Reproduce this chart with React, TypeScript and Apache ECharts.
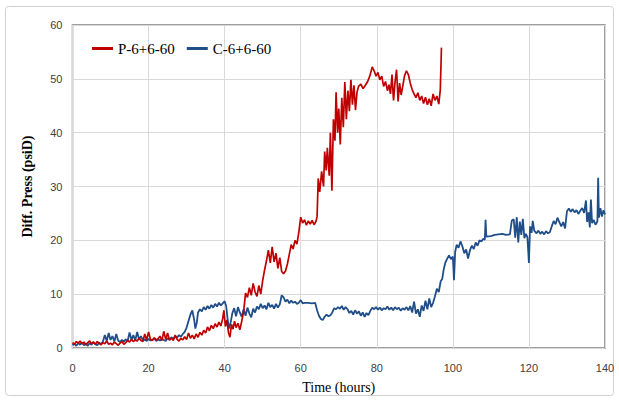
import React, { useEffect, useRef } from "react";
import * as echarts from "echarts";

const seriesNames = ["P-6+6-60", "C-6+6-60"];
const xTicks = [0, 20, 40, 60, 80, 100, 120, 140];
const yTicks = [0, 10, 20, 30, 40, 50, 60];

// P-6+6-60 : [time (hours), diff. press (psiD)]
const pData: number[][] = [
  [0,1.0],[0.5,0.7],[1,1.2],[1.5,0.9],[2,1.3],[2.5,0.8],[3,1.1],[3.5,0.6],[4,1.0],[4.5,1.3],
  [5,0.8],[5.5,1.1],[6,0.7],[6.5,1.2],[7,0.9],[7.5,0.6],[8,1.0],[8.5,0.8],[9,1.3],[9.5,0.7],
  [10,0.9],[10.5,0.6],[11,1.1],[11.5,0.8],[12,0.5],[12.5,0.9],[13,1.2],[13.5,0.7],[14,1.0],[14.5,1.4],
  [15,1.1],[15.5,1.6],[16,1.2],[16.5,1.5],[17,1.3],[17.5,1.8],[18,1.4],[18.5,1.2],[19,2.6],[19.5,1.5],
  [20,3.0],[20.5,1.6],[21,1.4],[21.5,1.9],[22,1.5],[22.5,1.7],[23,2.2],[23.5,1.4],[24,3.1],[24.5,1.6],
  [25,2.8],[25.5,1.5],[26,1.8],[26.5,1.4],[27,2.4],[27.5,1.6],[28,1.3],[28.5,1.8],[29,1.5],[29.5,2.1],
  [30,1.6],[30.5,2.8],[31,1.8],[31.5,2.4],[32,1.7],[32.5,2.6],[33,2.0],[33.5,2.9],[34,2.4],[34.5,3.3],
  [35,2.8],[35.5,3.9],[36,3.2],[36.5,4.2],[37,3.6],[37.5,4.5],[38,3.9],[38.5,4.8],[39,4.1],[39.5,5.5],
  [39.8,7.0],[40.2,4.0],[40.6,5.2],[41,2.9],[41.4,2.0],[41.8,4.4],[42.2,3.5],[42.6,5.0],[43,3.8],[43.5,4.6],
  [44,3.4],[44.5,5.0],[45,6.8],[45.5,10.2],[46,9.4],[46.5,11.2],[47,9.8],[47.5,12.0],[48,10.4],[48.5,9.6],
  [49,11.6],[49.5,10.0],[50,12.5],[50.5,14.5],[51,16.2],[51.5,18.2],[52,15.8],[52.5,18.8],[53,16.0],[53.5,17.6],
  [54,14.8],[54.5,16.8],[55,14.2],[55.5,13.8],[56,14.3],[56.5,15.6],[57,17.4],[57.5,19.2],[58,18.4],[58.5,20.0],
  [59,19.3],[59.5,21.5],[60,24.3],[60.5,23.2],[61,23.8],[61.5,22.8],[62,23.6],[62.5,23.0],[63,23.7],[63.5,22.9],
  [64,23.5],[64.3,24.4],[64.6,31.5],[65,29.0],[65.5,32.8],[66,30.0],[66.3,36.5],[66.7,33.0],[67,37.2],[67.5,32.0],
  [67.8,40.0],[68.2,29.2],[68.6,42.5],[69,38.5],[69.3,47.5],[69.7,40.0],[70,44.5],[70.4,37.8],[70.8,46.5],[71.2,41.0],
  [71.6,49.4],[72,42.5],[72.4,47.8],[72.8,44.0],[73.2,49.8],[73.6,45.2],[74,48.8],[74.4,44.2],[74.8,47.5],[75.2,48.6],
  [75.8,49.0],[76.4,48.2],[77,48.8],[77.6,49.5],[78.2,50.6],[78.8,52.2],[79.3,51.5],[79.8,50.5],[80.3,51.2],[80.8,49.8],
  [81.3,50.5],[81.8,48.6],[82.3,49.5],[82.8,47.8],[83.2,48.9],[83.6,47.2],[84,50.8],[84.4,46.0],[84.8,49.4],[85.2,51.7],
  [85.6,45.8],[86,49.2],[86.4,47.0],[86.8,48.5],[87.3,50.6],[87.8,51.5],[88.3,50.8],[88.8,49.2],[89.3,48.0],[89.8,47.2],
  [90.3,46.5],[90.8,47.4],[91.3,46.0],[91.8,46.8],[92.3,45.4],[92.8,46.6],[93.3,45.2],[93.8,46.3],[94.3,45.0],[94.8,47.2],
  [95.3,46.0],[95.8,46.8],[96.3,45.3],[96.7,48.0],[97.0,55.8]
];

// C-6+6-60 : [time (hours), diff. press (psiD)]
const cData: number[][] = [
  [0,0.5],[0.5,0.8],[1,0.4],[1.5,0.9],[2,0.6],[2.5,1.0],[3,0.5],[3.5,0.8],[4,0.4],[4.5,0.9],
  [5,0.6],[5.5,1.1],[6,0.7],[6.5,0.5],[7,1.0],[7.5,0.7],[8,1.2],[8.5,2.4],[9,1.3],[9.5,2.8],
  [10,1.5],[10.5,2.2],[11,1.2],[11.5,2.6],[12,1.4],[12.5,1.1],[13,1.5],[13.5,1.2],[14,1.6],[14.5,1.3],
  [15,2.9],[15.5,1.5],[16,2.4],[16.5,1.4],[17,3.0],[17.5,1.6],[18,2.2],[18.5,1.4],[19,1.6],[19.5,1.3],
  [20,1.7],[20.5,1.4],[21,1.5],[21.5,1.8],[22,1.3],[22.5,1.6],[23,1.4],[23.5,1.7],[24,1.5],[24.5,1.3],
  [25,1.8],[25.5,1.5],[26,2.0],[26.5,1.7],[27,2.2],[27.5,1.9],[28,2.4],[28.5,2.1],[29,2.6],[29.5,3.0],
  [30,3.8],[30.5,5.0],[31,6.2],[31.5,7.0],[32,5.2],[32.3,3.6],[32.7,4.8],[33,6.6],[33.5,7.2],[34,6.8],
  [34.5,7.6],[35,7.1],[35.5,7.8],[36,7.3],[36.5,8.0],[37,7.5],[37.5,8.2],[38,7.7],[38.5,8.4],[39,7.9],
  [39.5,8.3],[40,8.7],[40.4,7.8],[40.8,5.2],[41.2,3.6],[41.6,4.8],[42,6.4],[42.5,7.4],[43,5.9],[43.5,7.6],
  [44,6.6],[44.5,5.8],[45,7.2],[45.5,6.0],[46,7.5],[46.5,6.4],[47,5.7],[47.5,7.3],[48,6.6],[48.5,7.7],
  [49,7.2],[49.5,8.2],[50,7.4],[50.5,7.9],[51,7.2],[51.5,8.4],[52,7.6],[52.5,8.0],[53,7.3],[53.5,8.2],
  [54,7.5],[54.5,8.1],[55,9.8],[55.5,9.4],[56,8.6],[56.5,9.0],[57,8.3],[57.5,8.8],[58,8.4],[58.5,8.6],
  [59,8.2],[59.5,8.4],[60,8.9],[60.5,8.3],[61,8.4],[62,8.4],[63,8.3],[63.8,8.4],[64.3,7.0],[64.8,6.0],
  [65.3,5.4],[65.8,5.2],[66.3,5.8],[66.8,6.2],[67.3,5.9],[67.8,6.1],[68.3,6.6],[68.8,7.4],[69.3,7.2],[69.8,7.6],
  [70.3,7.3],[70.8,7.8],[71.3,7.1],[71.8,7.6],[72.3,7.2],[72.8,6.5],[73.3,6.9],[73.8,6.2],[74.3,7.0],[74.8,6.4],
  [75.3,6.8],[75.8,6.0],[76.3,6.6],[76.8,5.8],[77.3,6.5],[77.8,6.1],[78.3,6.9],[78.8,7.5],[79.3,7.2],[79.8,7.6],
  [80.3,7.1],[80.8,7.5],[81.3,7.0],[81.8,7.4],[82.3,7.2],[82.8,7.7],[83.3,7.1],[83.8,7.5],[84.3,7.0],[84.8,7.6],
  [85.3,7.2],[85.8,7.5],[86.3,6.9],[86.8,7.4],[87.3,7.1],[87.8,7.6],[88.3,7.0],[88.8,7.8],[89.3,6.6],[89.8,8.6],
  [90.3,6.4],[90.8,7.2],[91.3,5.8],[91.8,7.9],[92.3,6.9],[92.8,8.8],[93.3,7.2],[93.8,9.2],[94.3,7.6],[94.8,8.4],
  [95.3,9.6],[95.8,11.0],[96.3,10.4],[96.8,12.4],[97.2,12.8],[97.6,14.6],[98,15.8],[98.5,16.6],[99,17.2],[99.5,16.5],
  [100,17.0],[100.3,12.6],[100.6,17.8],[101,19.2],[101.5,18.6],[102,19.8],[102.5,18.9],[103,17.6],[103.5,18.3],[104,16.6],
  [104.5,18.2],[105,19.0],[105.5,18.4],[106,19.6],[106.5,19.0],[107,20.0],[107.5,19.8],[108,20.3],[108.4,20.1],[108.6,23.8],
  [108.8,20.7],[110,20.8],[111,21.0],[112,21.1],[113,21.2],[114,21.0],[115,21.1],[115.5,23.7],[116,23.9],[116.4,20.5],
  [116.8,24.3],[117.2,19.6],[117.6,23.5],[118,21.0],[118.4,24.0],[118.8,20.4],[119.2,21.2],[119.6,20.6],[120,15.8],[120.3,22.6],
  [120.7,21.4],[121,23.6],[121.4,21.8],[122,21.3],[122.5,21.8],[123,21.2],[123.5,21.6],[124,21.1],[124.5,21.7],[125,21.3],
  [125.5,21.5],[126,22.6],[126.5,23.6],[127,23.0],[127.5,24.2],[128,23.4],[128.5,22.6],[129,23.4],[129.5,22.2],[130,25.4],
  [130.5,25.9],[131,25.3],[131.5,25.8],[132,25.2],[132.5,25.6],[133,24.9],[133.5,25.5],[134,26.0],[134.5,25.1],[135,27.4],
  [135.3,23.4],[135.7,25.2],[136,22.4],[136.3,27.6],[136.6,23.2],[137,23.8],[137.5,22.9],[138,23.5],[138.2,31.6],[138.4,24.2],
  [138.8,26.0],[139.2,24.4],[139.6,25.6],[140,24.8]
];

const colors = ["#C00000", "#1F4E89"];

export default function App() {
  const ref = useRef<HTMLDivElement>(null);
  useEffect(() => {
    document.body.style.margin = "0";
    const chart = echarts.init(ref.current!, null, { renderer: "svg" });
    chart.setOption({
      animation: false,
      backgroundColor: "#ffffff",
      graphic: [
        {
          type: "rect",
          shape: { x: 5.5, y: 6.5, width: 608, height: 389, r: 3 },
          style: { fill: "none", stroke: "#D0D0D0", lineWidth: 1 },
          silent: true,
        },
      ],
      legend: {
        left: 87,
        top: 36,
        itemWidth: 21,
        itemHeight: 3,
        itemGap: 12,
        icon: "rect",
        data: seriesNames,
        textStyle: { fontFamily: "Liberation Serif", fontSize: 15, color: "#000000" },
      },
      grid: {
        left: 72.5,
        right: 14,
        top: 25,
        bottom: 53,
        show: true,
        borderColor: "#7F7F7F",
        borderWidth: 1.5,
      },
      xAxis: {
        type: "value",
        min: xTicks[0],
        max: xTicks[xTicks.length - 1],
        interval: 20,
        name: "Time (hours)",
        nameLocation: "middle",
        nameGap: 32,
        nameTextStyle: { fontFamily: "Liberation Serif", fontSize: 14, color: "#000000" },
        axisLine: { show: false },
        axisTick: { show: false },
        axisLabel: { margin: 14, fontFamily: "Liberation Sans", fontSize: 11, color: "#404040" },
        splitLine: { show: true, lineStyle: { color: "#D9D9D9", width: 1 } },
      },
      yAxis: {
        type: "value",
        min: yTicks[0],
        max: yTicks[yTicks.length - 1],
        interval: 10,
        name: "Diff. Press (psiD)",
        nameLocation: "middle",
        nameGap: 38,
        nameTextStyle: { fontFamily: "Liberation Serif", fontSize: 14, fontWeight: "bold", color: "#000000" },
        axisLine: { show: false },
        axisTick: { show: false },
        axisLabel: { margin: 10, fontFamily: "Liberation Sans", fontSize: 11, color: "#404040" },
        splitLine: { show: true, lineStyle: { color: "#D9D9D9", width: 1 } },
      },
      series: [
        {
          name: seriesNames[0],
          type: "line",
          data: pData,
          showSymbol: false,
          symbol: "none",
          lineStyle: { color: colors[0], width: 1.7 },
          itemStyle: { color: colors[0] },
          z: 3,
        },
        {
          name: seriesNames[1],
          type: "line",
          data: cData,
          showSymbol: false,
          symbol: "none",
          lineStyle: { color: colors[1], width: 1.8 },
          itemStyle: { color: colors[1] },
          z: 2,
        },
      ],
    });
    return () => chart.dispose();
  }, []);
  return (
    <div
      ref={ref}
      style={{ position: "fixed", left: 0, top: 0, width: 619, height: 401 }}
    />
  );
}
